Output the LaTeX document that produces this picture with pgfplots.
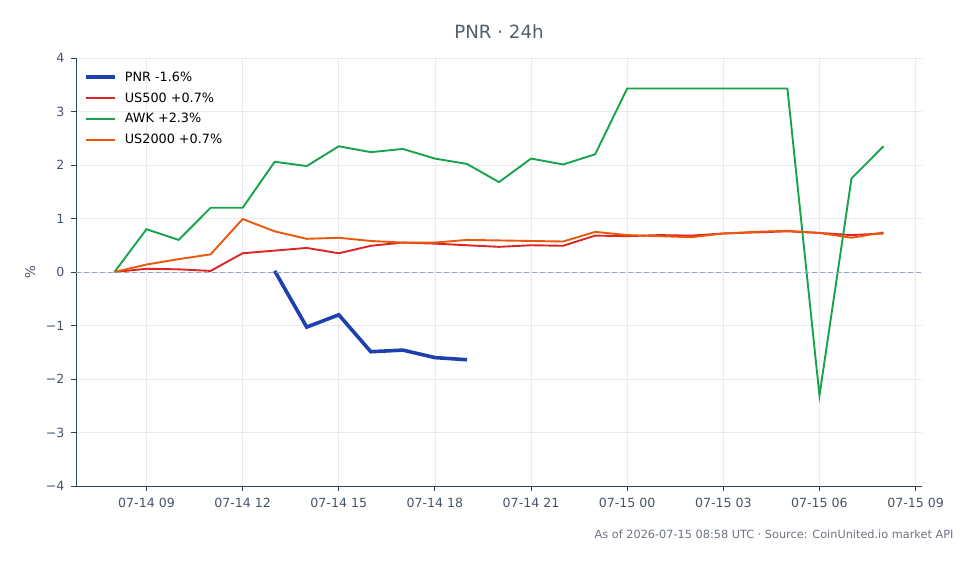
\documentclass[border=0pt]{standalone}
\usepackage{fontspec}
\setmainfont{DejaVu Sans}
\usepackage{pgfplots}
\pgfplotsset{compat=1.18}
\definecolor{cPNR}{HTML}{1E40AF}
\definecolor{cUS}{HTML}{DC2626}
\definecolor{cAWK}{HTML}{16A34A}
\definecolor{cRUT}{HTML}{EA580C}
\definecolor{gridc}{HTML}{E8EAEE}
\definecolor{axc}{HTML}{334155}
\definecolor{tickc}{HTML}{475569}
\definecolor{zeroc}{HTML}{94A3B8}
\definecolor{footc}{HTML}{6B7280}
\pgfplotstableread{
x pnr us awk rut
8  nan 0.00 0.00 0.00
9  nan 0.06 0.80 0.14
10 nan 0.05 0.60 0.24
11 nan 0.02 1.20 0.33
12 nan 0.35 1.20 0.99
13 0.02 0.40 2.06 0.76
14 -1.03 0.45 1.98 0.62
15 -0.80 0.35 2.35 0.64
16 -1.49 0.49 2.24 0.58
17 -1.46 0.55 2.30 0.55
18 -1.60 0.53 2.12 0.55
19 -1.64 0.50 2.02 0.60
20 nan 0.47 1.68 0.59
21 nan 0.50 2.12 0.58
22 nan 0.49 2.01 0.57
23 nan 0.68 2.20 0.75
24 nan 0.67 3.43 0.69
25 nan 0.69 3.43 0.67
26 nan 0.68 3.43 0.65
27 nan 0.72 3.43 0.72
28 nan 0.74 3.43 0.75
29 nan 0.76 3.43 0.77
30 nan 0.73 -2.31 0.73
31 nan 0.69 1.75 0.64
32 nan 0.72 2.35 0.74
}\data
\begin{document}
\begin{tikzpicture}[x=1pt,y=1pt]
\useasboundingbox (0,0) rectangle (980,564);
\begin{axis}[
  at={(76pt,78pt)}, anchor=south west,
  scale only axis, width=846pt, height=428pt,
  xmin=6.8, xmax=33.2, ymin=-4, ymax=4,
  axis x line*=bottom, axis y line*=left,
  axis line style={axc, line width=0.9pt},
  xtick={9,12,...,33},
  xticklabels={07-14 09,07-14 12,07-14 15,07-14 18,07-14 21,07-15 00,07-15 03,07-15 06,07-15 09},
  ytick={-4,-3,...,4},
  yticklabels={−4,−3,−2,−1,0,1,2,3,4},
  tick style={axc, line width=0.9pt},
  tick align=outside, major tick length=5pt,
  ticklabel style={tickc, font=\fontsize{12.6}{14}\selectfont},
  xticklabel style={yshift=-4pt},
  yticklabel style={xshift=-3pt},
  grid=major, major grid style={gridc, line width=0.6pt},
  ylabel={\%},
  every axis y label/.style={at={(axis description cs:-0.054,0.5)}, rotate=90, anchor=center, text=tickc, font=\fontsize{13.5}{15}\selectfont},
  legend cell align=left,
  legend style={draw=none, fill=none, at={(0.006,0.978)}, anchor=north west,
    font=\fontsize{12.8}{15}\selectfont, row sep=5.9pt,
    nodes={inner xsep=4pt}},
  legend image code/.code={\draw[#1] (0pt,0pt) -- (29pt,0pt);},
  unbounded coords=jump,
  clip=false,
]
\addplot[cPNR, line width=3.6pt] table[x=x,y=pnr]{\data};
\addlegendentry{\hspace*{4pt}PNR -1.6\%}
\addplot[cUS, line width=1.9pt] table[x=x,y=us]{\data};
\addlegendentry{\hspace*{4pt}US500 +0.7\%}
\addplot[cAWK, line width=1.9pt] table[x=x,y=awk]{\data};
\addlegendentry{\hspace*{4pt}AWK +2.3\%}
\addplot[cRUT, line width=1.9pt] table[x=x,y=rut]{\data};
\addlegendentry{\hspace*{4pt}US2000 +0.7\%}
\addplot[zeroc, line width=0.9pt, forget plot, dash pattern=on 5pt off 3pt] coordinates {(6.8,0) (33.2,0)};
\end{axis}
\node[text=axc!85, font=\fontsize{18.2}{21}\selectfont] at (499,532) {PNR · 24h};
\node[anchor=east, text=footc, font=\fontsize{11.3}{13}\selectfont] at (957,30) {As of 2026-07-15 08:58 UTC · Source: CoinUnited.io market API};
\end{tikzpicture}
\end{document}
